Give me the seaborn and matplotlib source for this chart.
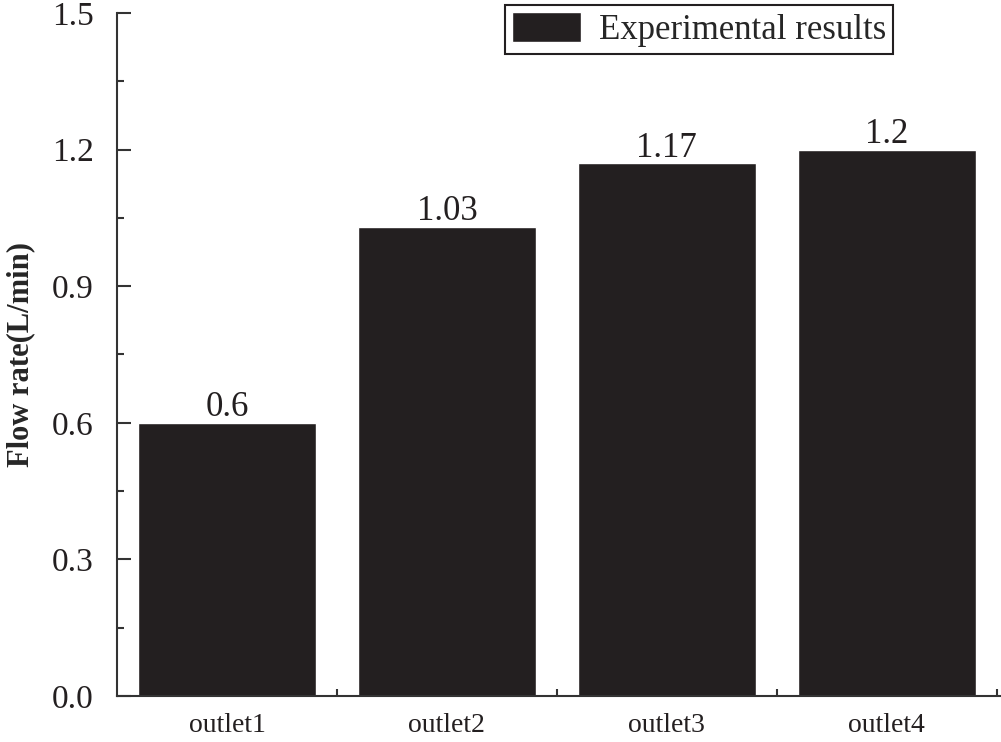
import matplotlib
matplotlib.use("Agg")
import matplotlib.pyplot as plt
import seaborn as sns
import numpy as np
import pandas as pd
from matplotlib.ticker import MultipleLocator, FixedLocator, NullFormatter

# data
outlets = ["outlet1", "outlet2", "outlet3", "outlet4"]
flow_rate = [0.6, 1.03, 1.17, 1.2]
value_labels = ["0.6", "1.03", "1.17", "1.2"]

sns.set_theme(style="ticks")
plt.rcParams['font.family'] = ['Liberation Serif', 'DejaVu Serif']

df = pd.DataFrame({"outlet": outlets, "flow": flow_rate})

fig = plt.figure(figsize=(10.01, 7.42), dpi=100)
ax = fig.add_axes([0.117, 0.062, 0.883, 0.9205])

sns.barplot(data=df, x="outlet", y="flow", color="#231f20", saturation=1,
            width=0.81, ax=ax)

ax.bar_label(ax.containers[0], labels=value_labels, fontsize=25, padding=-1,
             color="#231f20")

ax.set_ylim(0, 1.5)
ax.set_xlim(-0.5, 3.52)
ax.yaxis.set_major_locator(MultipleLocator(0.3))
ax.yaxis.set_minor_locator(MultipleLocator(0.15))
ax.yaxis.set_major_formatter(matplotlib.ticker.FormatStrFormatter('%.1f'))

# x ticks sit between the categories, labels at the centres
ax.set_xticks(range(len(outlets)))
ax.set_xticklabels(outlets)
ax.xaxis.set_minor_locator(FixedLocator([0.5, 1.5, 2.5, 3.5]))
ax.tick_params(axis='x', which='major', length=0, labelsize=20, pad=12,
               colors="#231f20")
ax.tick_params(axis='x', which='minor', direction='in', length=5, width=1.5,
               color="#333333")
ax.tick_params(axis='y', which='major', direction='in', length=10, width=1.5,
               labelsize=24, pad=17, color="#333333", labelcolor="#231f20")
ax.tick_params(axis='y', which='minor', direction='in', length=5, width=1.5,
               color="#333333")

ax.set_xlabel("")
ax.set_ylabel("Flow rate(L/min)", fontsize=22, fontweight='bold', labelpad=12)

sns.despine(ax=ax)
for side in ["left", "bottom"]:
    ax.spines[side].set_linewidth(1.5)
    ax.spines[side].set_color("#333333")

leg = ax.legend([ax.containers[0]], ["Experimental results"],
                loc="upper right", bbox_to_anchor=(0.892, 0.993),
                bbox_transform=fig.transFigure, borderaxespad=0,
                fontsize=25, fancybox=False, framealpha=1,
                handlelength=2.0, handleheight=0.95, handletextpad=0.5,
                borderpad=0.2)
leg.get_frame().set_edgecolor("#231f20")
leg.get_frame().set_linewidth(1.5)

fig.savefig("out.png", dpi=100)
